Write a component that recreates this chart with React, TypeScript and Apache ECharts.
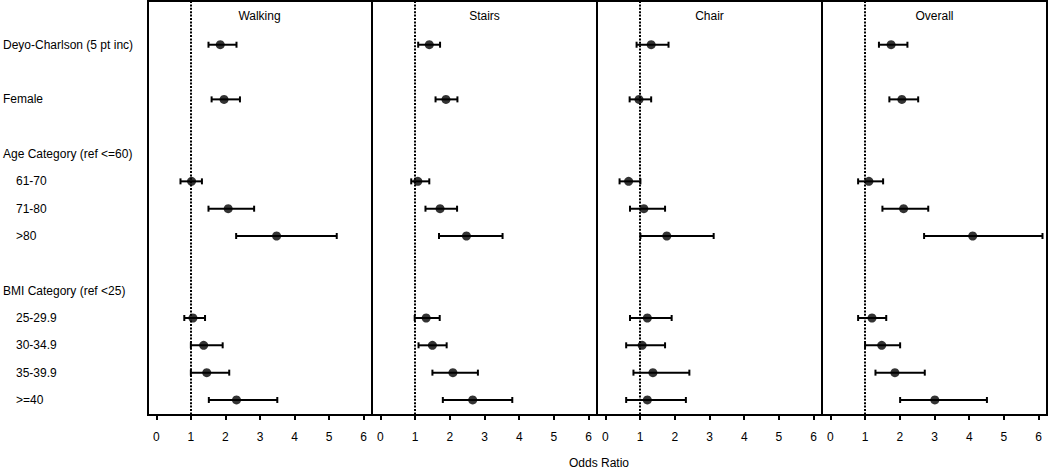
import React, { useEffect, useRef } from "react";
import * as echarts from "echarts";

const rowLabels = [
  "Deyo-Charlson (5 pt inc)",
  "",
  "Female",
  "",
  "Age Category (ref <=60)",
  "61-70",
  "71-80",
  ">80",
  "",
  "BMI Category (ref <25)",
  "25-29.9",
  "30-34.9",
  "35-39.9",
  ">=40",
];
const subRows = ["61-70", "71-80", ">80", "25-29.9", "30-34.9", "35-39.9", ">=40"];
const estimateRows = ["Deyo-Charlson (5 pt inc)", "Female", "61-70", "71-80", ">80", "25-29.9", "30-34.9", "35-39.9", ">=40"];

const panelTitles = ["Walking", "Stairs", "Chair", "Overall"];

const walkingOR = [1.85, 1.96, 1.02, 2.08, 3.48, 1.06, 1.37, 1.46, 2.32];
const walkingLo = [1.51, 1.6, 0.7, 1.51, 2.31, 0.81, 1.0, 1.0, 1.52];
const walkingHi = [2.32, 2.42, 1.32, 2.83, 5.22, 1.41, 1.92, 2.11, 3.5];

const stairsOR = [1.41, 1.89, 1.08, 1.72, 2.48, 1.32, 1.5, 2.09, 2.66];
const stairsLo = [1.09, 1.59, 0.89, 1.3, 1.69, 0.99, 1.1, 1.5, 1.8];
const stairsHi = [1.72, 2.22, 1.41, 2.21, 3.52, 1.71, 1.91, 2.81, 3.8];

const chairOR = [1.32, 0.97, 0.67, 1.11, 1.77, 1.21, 1.06, 1.37, 1.21];
const chairLo = [0.9, 0.7, 0.41, 0.71, 1.01, 0.71, 0.6, 0.81, 0.6];
const chairHi = [1.82, 1.32, 1.01, 1.72, 3.12, 1.91, 1.72, 2.42, 2.32];

const overallOR = [1.75, 2.06, 1.11, 2.11, 4.1, 1.2, 1.48, 1.86, 3.01];
const overallLo = [1.4, 1.7, 0.8, 1.5, 2.7, 0.8, 1.0, 1.3, 2.01];
const overallHi = [2.22, 2.53, 1.52, 2.82, 6.11, 1.61, 2.01, 2.72, 4.51];

const xTicks = [0, 1, 2, 3, 4, 5, 6];
const refValue = 1;
const xAxisTitle = "Odds Ratio";

const panels = [
  { or: walkingOR, lo: walkingLo, hi: walkingHi },
  { or: stairsOR, lo: stairsLo, hi: stairsHi },
  { or: chairOR, lo: chairLo, hi: chairHi },
  { or: overallOR, lo: overallLo, hi: overallHi },
];

const FONT = "'Liberation Sans', Arial, Helvetica, sans-serif";

export default function App() {
  const ref = useRef<HTMLDivElement>(null);

  useEffect(() => {
    if (!ref.current) return;
    const chart = echarts.init(ref.current, null, { renderer: "svg" });

    const gridLeft0 = 147;
    const gridW = 225;
    const gridTop = 1;
    const gridH = 414;

    const grids: any[] = [];
    const xAxes: any[] = [];
    const yAxes: any[] = [];
    const series: any[] = [];
    const titles: any[] = [];

    const labeledRows = rowLabels
      .map((l, i) => (l ? i : -1))
      .filter((i) => i >= 0);

    panels.forEach((p, k) => {
      const left = gridLeft0 + k * gridW;
      grids.push({
        left,
        top: gridTop,
        width: gridW,
        height: gridH,
        show: true,
        borderColor: "#000",
        borderWidth: 2,
        backgroundColor: "transparent",
      });
      titles.push({
        text: panelTitles[k],
        left: left + gridW / 2,
        top: 10,
        textAlign: "center",
        padding: 0,
        textStyle: { fontSize: 12, fontWeight: "normal", color: "#000", fontFamily: FONT },
      });
      xAxes.push({
        type: "value",
        gridIndex: k,
        position: "bottom",
        min: -0.24,
        max: 6.24,
        axisLine: { show: false, onZero: false },
        splitLine: { show: false },
        axisTick: {
          show: true,
          inside: false,
          length: 5,
          customValues: xTicks,
          lineStyle: { color: "#000", width: 2 },
        },
        axisLabel: {
          show: true,
          customValues: xTicks,
          margin: 16,
          fontSize: 12,
          color: "#000",
          fontFamily: FONT,
          formatter: (v: number) => String(v),
        },
      });
      yAxes.push({
        type: "value",
        gridIndex: k,
        inverse: true,
        min: -1.6,
        max: 13.55,
        axisLine: { show: false, onZero: false },
        axisTick: { show: false },
        splitLine: { show: false },
        axisLabel:
          k === 0
            ? {
                show: true,
                customValues: labeledRows,
                align: "left",
                margin: 145,
                fontSize: 12,
                color: "#000",
                fontFamily: FONT,
                formatter: (v: number) => {
                  const l = rowLabels[Math.round(v)] || "";
                  return subRows.includes(l) ? "{sub|" + l + "}" : l;
                },
                rich: {
                  sub: { padding: [0, 0, 0, 13], fontSize: 12, color: "#000", fontFamily: FONT },
                },
              }
            : { show: false },
      });

      const ebData = estimateRows.map((name, i) => [rowLabels.indexOf(name), p.lo[i], p.hi[i]]);
      series.push({
        type: "custom",
        xAxisIndex: k,
        yAxisIndex: k,
        silent: true,
        encode: { x: [1, 2], y: 0 },
        data: ebData,
        renderItem: (params: any, api: any) => {
          const y = api.value(0);
          const a = api.coord([api.value(1), y]);
          const b = api.coord([api.value(2), y]);
          const h = 3;
          const st = { stroke: "#000", lineWidth: 2 };
          return {
            type: "group",
            children: [
              { type: "line", shape: { x1: a[0], y1: a[1], x2: b[0], y2: b[1] }, style: st },
              { type: "line", shape: { x1: a[0], y1: a[1] - h, x2: a[0], y2: a[1] + h }, style: st },
              { type: "line", shape: { x1: b[0], y1: b[1] - h, x2: b[0], y2: b[1] + h }, style: st },
            ],
          };
        },
        z: 3,
      });
      series.push({
        type: "scatter",
        xAxisIndex: k,
        yAxisIndex: k,
        silent: true,
        symbol: "circle",
        symbolSize: 9,
        itemStyle: { color: "#000" },
        data: estimateRows.map((name, i) => [p.or[i], rowLabels.indexOf(name)]),
        z: 4,
        markLine: {
          silent: true,
          symbol: "none",
          label: { show: false },
          lineStyle: { color: "#000", width: 2, type: [2, 1.4] },
          data: [{ xAxis: refValue }],
        },
      });
    });

    chart.setOption({
      animation: false,
      textStyle: { fontFamily: FONT },
      title: titles,
      grid: grids,
      xAxis: xAxes,
      yAxis: yAxes,
      series,
      graphic: [
        {
          type: "text",
          left: gridLeft0 + (gridW * 4) / 2 - 28,
          top: 457,
          style: { text: xAxisTitle, fontSize: 12, fill: "#000", fontFamily: FONT },
        },
      ],
    });

    return () => chart.dispose();
  }, []);

  return (
    <div
      ref={ref}
      style={{ position: "absolute", left: 0, top: 0, width: 1050, height: 472 }}
    />
  );
}
